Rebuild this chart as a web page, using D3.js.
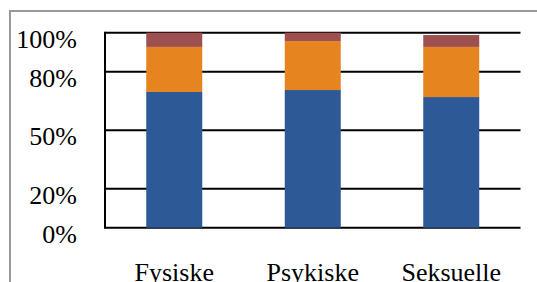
<!DOCTYPE html>
<html>
<head>
  <meta charset="utf-8">
  <script src="https://d3js.org/d3.v7.min.js"></script>
  <style>
    body { margin: 0; background: #fff; }
    svg text { font-family: "Liberation Serif", serif; font-size: 26px; fill: #000; }
  </style>
</head>
<body>
<script>
  // chart data
  var categories = ["Fysiske", "Psykiske", "Seksuelle"];
  var blueVals   = [69.6, 70.6, 67.0];
  var orangeVals = [23.1, 25.1, 25.7];
  var redVals    = [7.3, 4.3, 6.1];
  var tickVals   = [0, 20, 50, 80, 100];
  var tickLabels = ["0%", "20%", "50%", "80%", "100%"];
  var colors     = ["#2D5996", "#E6841F", "#9E5050"];

  var width = 537, height = 282;

  var svg = d3.select("body").append("svg")
      .attr("width", width)
      .attr("height", height);

  // outer frame (only top and left visible in the picture)
  svg.append("path")
      .attr("d", "M10,282 V11 H537")
      .attr("fill", "none")
      .attr("stroke", "#999")
      .attr("stroke-width", 2);

  var x = d3.scaleBand().domain(categories).range([105, 520.5]).paddingInner(0).paddingOuter(0);
  var y = d3.scaleLinear().domain([0, 100]).range([227.7, 32.7]);
  var barW = 56;

  // gridlines
  svg.selectAll("line.grid").data(tickVals).enter().append("line")
      .attr("class", "grid")
      .attr("x1", 105).attr("x2", 520.5)
      .attr("y1", d => y(d)).attr("y2", d => y(d))
      .attr("stroke", "#000").attr("stroke-width", 2);

  // y axis line
  svg.append("line")
      .attr("x1", 105).attr("x2", 105)
      .attr("y1", y(100) - 1).attr("y2", y(0) + 1)
      .attr("stroke", "#000").attr("stroke-width", 2);

  // y labels
  svg.selectAll("text.ylab").data(tickVals).enter().append("text")
      .attr("class", "ylab")
      .attr("x", 77)
      .attr("y", d => y(d) + 15)
      .attr("text-anchor", "end")
      .text((d, i) => tickLabels[i]);

  // stacked bars
  var rows = categories.map((c, i) => ({cat: c, blue: blueVals[i], orange: orangeVals[i], red: redVals[i]}));
  var stack = d3.stack().keys(["blue", "orange", "red"])(rows);

  svg.selectAll("g.layer").data(stack).enter().append("g")
      .attr("fill", (d, i) => colors[i])
    .selectAll("rect").data(d => d).enter().append("rect")
      .attr("x", d => x(d.data.cat) + (x.bandwidth() - barW) / 2)
      .attr("width", barW)
      .attr("y", d => y(d[1]))
      .attr("height", d => y(d[0]) - y(d[1]));

  // category labels
  svg.selectAll("text.xlab").data(categories).enter().append("text")
      .attr("class", "xlab")
      .attr("x", d => x(d) + x.bandwidth() / 2)
      .attr("y", 281)
      .attr("text-anchor", "middle")
      .text(d => d);
</script>
</body>
</html>
